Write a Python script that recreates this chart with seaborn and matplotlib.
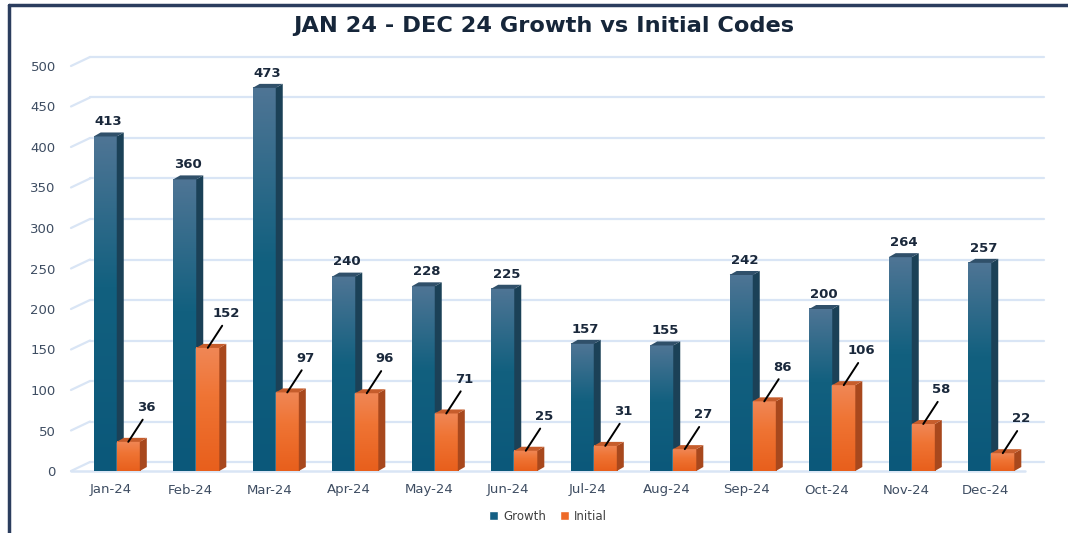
import numpy as np
import pandas as pd

import matplotlib
matplotlib.use("Agg")
import matplotlib.pyplot as plt
import matplotlib.transforms as mtransforms
from matplotlib.patches import Polygon
from matplotlib.colors import LinearSegmentedColormap
import seaborn as sns

#####################################
### DATA
#####################################
months = ["Jan-24", "Feb-24", "Mar-24", "Apr-24", "May-24", "Jun-24",
          "Jul-24", "Aug-24", "Sep-24", "Oct-24", "Nov-24", "Dec-24"]
growth = [413, 360, 473, 240, 228, 225, 157, 155, 242, 200, 264, 257]
initial = [36, 152, 97, 96, 71, 25, 31, 27, 86, 106, 58, 22]
series = ["Growth", "Initial"]
y_ticks = list(range(0, 501, 50))

df = pd.DataFrame({
    "Month": months * 2,
    "Codes": growth + initial,
    "Series": ["Growth"] * len(months) + ["Initial"] * len(months),
})

#####################################
### STYLE
#####################################
palette = {"Growth": "#145f84", "Initial": "#ee6a28"}
front_cmaps = {
    "Growth": LinearSegmentedColormap.from_list(
        "g", [(0, "#0b587a"), (0.55, "#12607f"), (1, "#4f7595")]),
    "Initial": LinearSegmentedColormap.from_list(
        "i", [(0, "#e85f1c"), (0.6, "#ef7434"), (1, "#f08756")]),
}
side_col = {"Growth": "#1b4157", "Initial": "#a8481d"}
top_col = {"Growth": "#30506a", "Initial": "#c65d2c"}
grid_col = "#d9e5f5"
text_col = "#3e4d62"
label_col = "#1a283b"

sns.set_style("white")
plt.rcParams["font.family"] = ["DejaVu Sans"]

#####################################
### PLOT BUILD
#####################################
W, H = 1068, 533
fig = plt.figure(figsize=(W / 100, H / 100), dpi=100)
ax = fig.add_axes([71 / W, 62 / H, 954 / W, 405 / H])

sns.barplot(data=df, x="Month", y="Codes", hue="Series", hue_order=series,
            palette=palette, width=0.58, saturation=1, ax=ax, zorder=3)

ax.set_xlim(-0.5, len(months) - 0.5)
ax.set_ylim(0, 500)

# pixel -> data conversions for the 3d look
px_x = ax.bbox.width / len(months)
px_y = ax.bbox.height / 500
dx, dy = 7 / px_x, 4 / px_y
shift = 6 / px_x

grad = np.linspace(0, 1, 256).reshape(-1, 1)

for k, (name, cont) in enumerate(zip(series, ax.containers)):
    z = 3 + k
    for bar in cont:
        x0 = bar.get_x() + shift
        bar.set_x(x0)
        w = bar.get_width()
        h = bar.get_height()
        x1 = x0 + w
        bar.set_zorder(z)
        ax.imshow(grad, cmap=front_cmaps[name], origin="lower",
                  extent=(x0, x1, 0, h), aspect="auto", zorder=z,
                  interpolation="bicubic")
        ax.add_patch(Polygon([(x1, 0), (x1 + dx, dy), (x1 + dx, h + dy), (x1, h)],
                             closed=True, fc=side_col[name], ec="none", zorder=z))
        ax.add_patch(Polygon([(x0, h), (x1, h), (x1 + dx, h + dy), (x0 + dx, h + dy)],
                             closed=True, fc=top_col[name], ec="none", zorder=z))
        if name == "Growth":
            ax.annotate(f"{int(h)}", (x0 + w / 2 + dx / 2, h + dy),
                        xytext=(0, 3), textcoords="offset points",
                        ha="center", va="bottom", fontsize=9.5,
                        fontweight="bold", color=label_col, zorder=10)
        else:
            ax.annotate(f"{int(h)}", (x0 + w / 2, h),
                        xytext=(13, 20), textcoords="offset points",
                        ha="center", va="bottom", fontsize=9.5,
                        fontweight="bold", color=label_col, zorder=10,
                        arrowprops=dict(arrowstyle="-", color="black", lw=1.4,
                                        shrinkA=2, shrinkB=0, relpos=(0.5, 0)))

ax.set_xlim(-0.5, len(months) - 0.5)
ax.set_ylim(0, 500)

# back wall gridlines with perspective offset
blend = mtransforms.blended_transform_factory(ax.transAxes, ax.transData)
gx = 19 / ax.bbox.width
gy = 9 / px_y
for t in y_ticks:
    ax.plot([gx, 1 + gx], [t + gy, t + gy], color=grid_col, lw=1.6,
            transform=blend, clip_on=False, zorder=1)
    ax.plot([0, gx], [t, t + gy], color=grid_col, lw=1.6,
            transform=blend, clip_on=False, zorder=1)
# floor front edge
ax.plot([0, 1], [0, 0], color=grid_col, lw=1.8, transform=blend,
        clip_on=False, zorder=2)

ax.set_yticks(y_ticks)
ax.set_xticks(np.arange(-0.5, len(months), 1), minor=True)
ax.tick_params(axis="y", length=0, pad=11, labelsize=9.5, labelcolor=text_col)
ax.tick_params(axis="x", which="major", length=0, pad=9, labelsize=9.5,
               labelcolor=text_col)
ax.tick_params(axis="x", which="minor", length=5, width=1.4, color=grid_col,
               direction="out")
ax.set_xlabel("")
ax.set_ylabel("")
ax.grid(False)
sns.despine(ax=ax, left=True, bottom=True)

sns.move_legend(ax, "center", bbox_to_anchor=(0.5, -0.112), ncol=2,
                frameon=False, title=None, fontsize=8.5, handlelength=0.8,
                handleheight=0.8, handletextpad=0.4, columnspacing=1.2,
                labelcolor="#404040")

fig.text(0.509, 1 - 26 / H, "JAN 24 - DEC 24 Growth vs Initial Codes",
         ha="center", va="center", fontsize=16.2, fontweight="bold",
         color="#16263a")

# outer frame (left and top edges)
fig.add_artist(plt.Line2D([8.5 / W, 8.5 / W], [0, 1 - 5 / H], color="#2b3d5e",
                          lw=2.5, transform=fig.transFigure))
fig.add_artist(plt.Line2D([8.5 / W, 1], [1 - 5 / H, 1 - 5 / H], color="#2b3d5e",
                          lw=2.5, transform=fig.transFigure))

fig.savefig("out.png", dpi=100)
plt.close()
